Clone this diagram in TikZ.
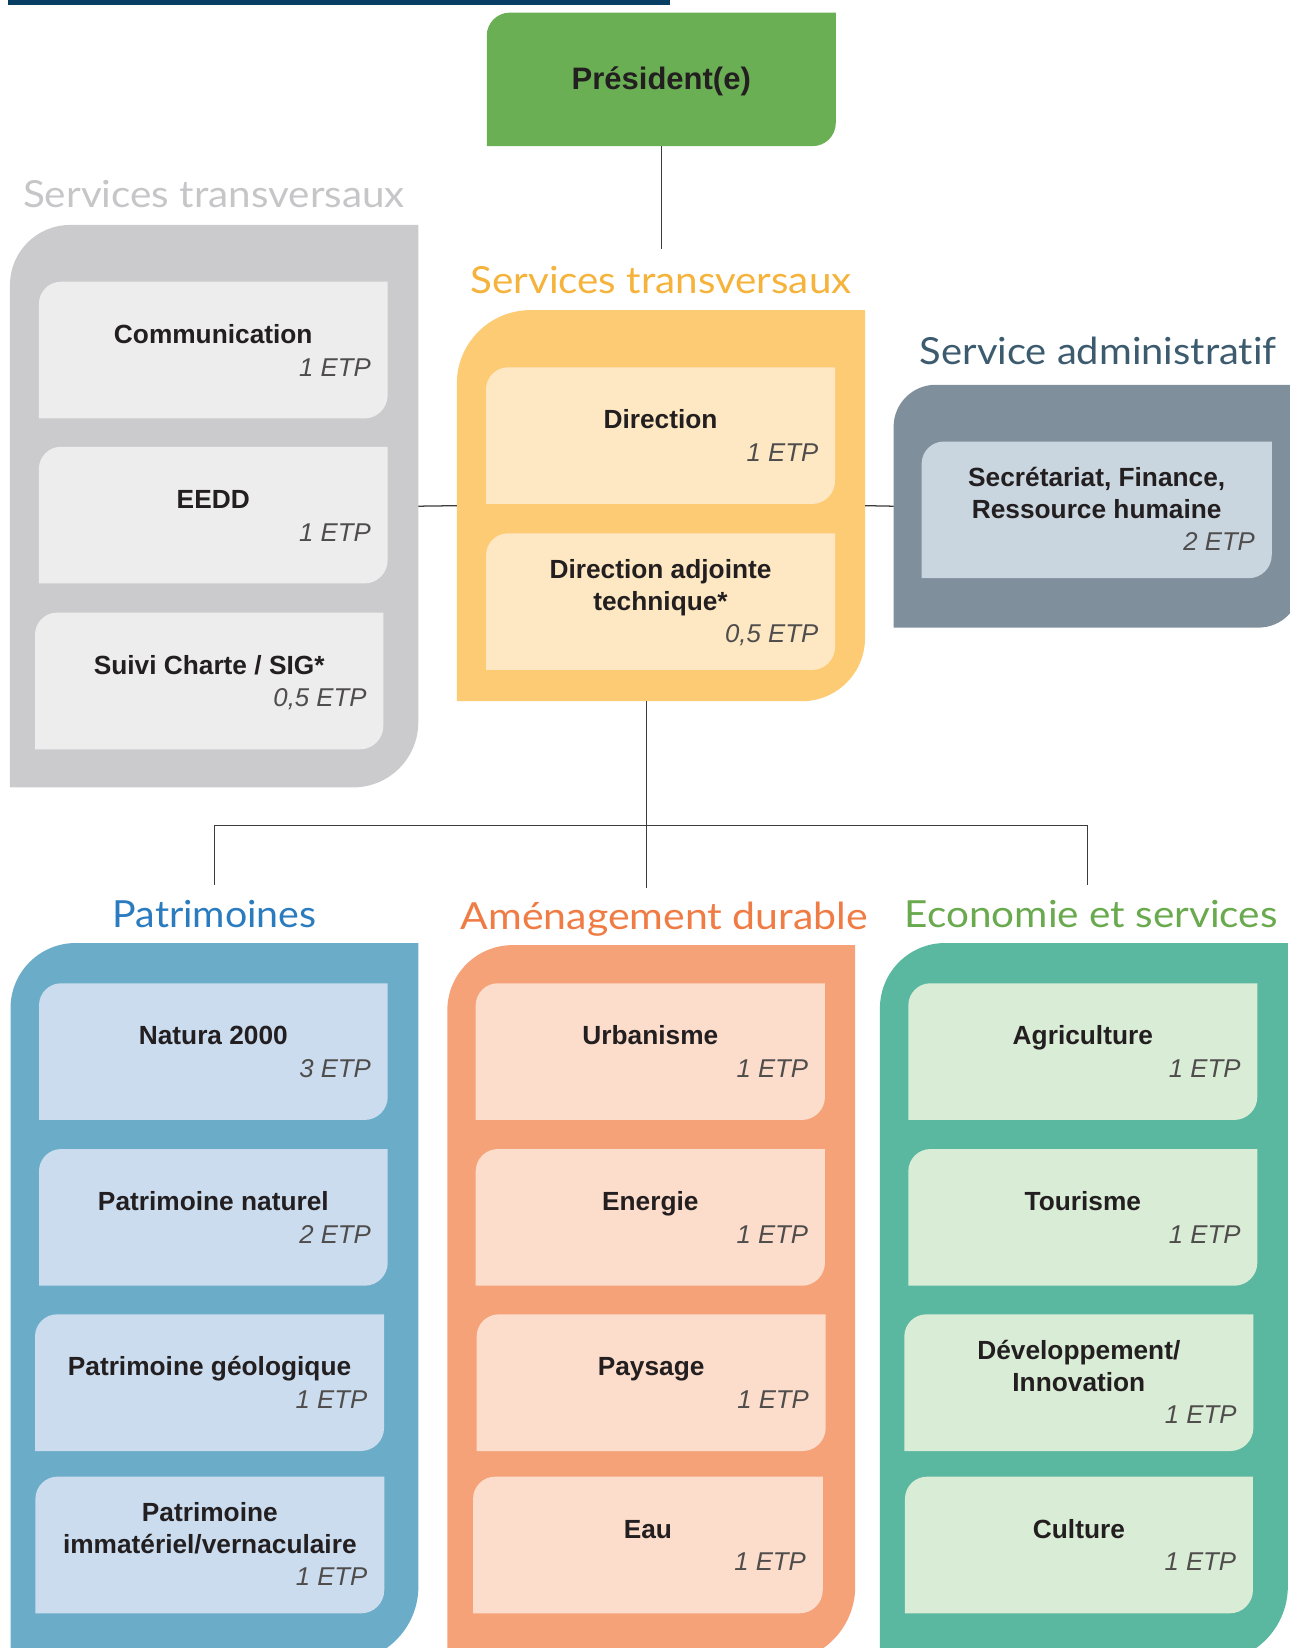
\documentclass[tikz,border=0pt]{standalone}
\usepackage{fontspec}
\usepackage{graphicx}
\setmainfont{Liberation Sans}
\newfontfamily\hfont[Ligatures=NoCommon]{Lato}
\definecolor{topbar}{HTML}{083E64}
\definecolor{presc}{HTML}{6BAF55}
\definecolor{grayo}{HTML}{CBCBCD}
\definecolor{grayi}{HTML}{EDEDED}
\definecolor{grayh}{HTML}{C6C6C8}
\definecolor{yelo}{HTML}{FDCB73}
\definecolor{yeli}{HTML}{FEE8C4}
\definecolor{yelh}{HTML}{F5B33B}
\definecolor{admo}{HTML}{7F8F9B}
\definecolor{admi}{HTML}{C9D6DF}
\definecolor{admh}{HTML}{3D5B6E}
\definecolor{bluo}{HTML}{6BADC8}
\definecolor{blui}{HTML}{CBDCEE}
\definecolor{bluh}{HTML}{2B7BBF}
\definecolor{orao}{HTML}{F5A279}
\definecolor{orai}{HTML}{FCDCCB}
\definecolor{orah}{HTML}{F07C45}
\definecolor{greo}{HTML}{5AB7A0}
\definecolor{grei}{HTML}{D9ECD6}
\definecolor{greh}{HTML}{6AAA4E}
\definecolor{txt}{HTML}{231F20}
\definecolor{linec}{HTML}{3C3C3C}

% leaf-shaped fill: rounded top-left (#2) and bottom-right (#3) corners
\newcommand\leaf[4]{\fill[#4] (#1.south west) -- ([yshift=-#2]#1.north west) arc[start angle=180,end angle=90,radius=#2] -- (#1.north east) -- ([yshift=#3]#1.south east) arc[start angle=0,end angle=-90,radius=#3] -- cycle;}

% inner box: name, x, y(top), width, fill, title, etp, title offset, etp offset
\newcommand\ibox[9]{%
  \node[frame, minimum width=#4pt, minimum height=130pt, anchor=north west] (#1) at (#2,-#3) {};
  \leaf{#1}{21pt}{22pt}{#5}
  \node[ttl, anchor=north] (#1-t) at ([yshift=-#8pt]#1.north) {\rule{0pt}{22pt}#6};
  \node[etp, anchor=base east] (#1-e) at ([xshift=-16pt,yshift=-#9pt]#1.north east) {#7};}

% header text stretched to a given width
\newcommand\hdrtext[2]{\resizebox{#1pt}{\height}{#2}}

\begin{document}
\begin{tikzpicture}[x=1pt,y=1pt,
  frame/.style={inner sep=0pt, outer sep=0pt, draw=none},
  ttl/.style={font=\bfseries\fontsize{25}{30.2}\selectfont, text=txt, align=center, inner sep=0pt, outer sep=0pt},
  etp/.style={font=\itshape\fontsize{24.5}{29}\selectfont, text=txt!80, inner sep=0pt, outer sep=0pt},
  hdr/.style={font=\hfont\fontsize{35.5}{40}\selectfont, inner sep=0pt, outer sep=0pt, anchor=base},
  conn/.style={draw=linec, line width=1.2pt}]
\useasboundingbox (0,0) rectangle (1227,-1567.6);
\clip (0,0) rectangle (1227,-1567.6);

\node[frame, fill=topbar, minimum width=629pt, minimum height=4.7pt, anchor=north west] (bar) at (8,0) {};

% President
\node[frame, minimum width=332pt, minimum height=127pt, anchor=north west] (pres) at (463,-12) {};
\leaf{pres}{22pt}{22pt}{presc}
\node[ttl, font=\bfseries\fontsize{29.5}{34}\selectfont, anchor=base] (pres-t) at ([yshift=-73pt]pres.north) {Président(e)};

% Headers
\node[hdr, text=grayh] (h-gs) at (203.5,-197) {\hdrtext{363}{Services transversaux}};
\node[hdr, text=yelh] (h-st) at (628.7,-279) {\hdrtext{362.5}{Services transversaux}};
\node[hdr, text=admh] (h-adm) at (1044.7,-347) {\hdrtext{339.4}{Service administratif}};
\node[hdr, text=bluh] (h-pat) at (204.2,-882) {\hdrtext{194}{Patrimoines}};
\node[hdr, text=orah] (h-amd) at (631.9,-884) {\hdrtext{387.4}{Aménagement durable}};
\node[hdr, text=greh] (h-eco) at (1038,-882) {\hdrtext{354.5}{Economie et services}};

% Outer boxes
\node[frame, minimum width=388.4pt, minimum height=535pt, anchor=north west] (gs) at (9.5,-214) {};
\leaf{gs}{57pt}{62pt}{grayo}
\node[frame, minimum width=388.3pt, minimum height=372pt, anchor=north west] (st) at (434.5,-295) {};
\leaf{st}{70pt}{60pt}{yelo}
\node[frame, minimum width=387pt, minimum height=231pt, anchor=north west] (adm) at (850,-366) {};
\leaf{adm}{40pt}{40pt}{admo}
\node[frame, minimum width=388pt, minimum height=684pt, anchor=north west] (pat) at (10,-897) {};
\leaf{pat}{62pt}{72pt}{bluo}
\node[frame, minimum width=388pt, minimum height=682pt, anchor=north west] (amd) at (425.5,-899) {};
\leaf{amd}{62pt}{72pt}{orao}
\node[frame, minimum width=388pt, minimum height=684pt, anchor=north west] (eco) at (837,-897) {};
\leaf{eco}{62pt}{72pt}{greo}

% Services transversaux (gris)
\ibox{comm}{37}{268}{331.7}{grayi}{Communication}{1 ETP}{36.6}{89.7}
\ibox{eedd}{37}{425}{331.7}{grayi}{EEDD}{1 ETP}{36.6}{89.7}
\ibox{sig}{33.3}{582.7}{331.3}{grayi}{Suivi Charte / SIG*}{0,5 ETP}{36.6}{89.7}

% Services transversaux (jaune)
\ibox{dir}{462.3}{349.4}{332}{yeli}{Direction}{1 ETP}{36.6}{89.7}
\ibox{dadj}{462.3}{507.3}{332}{yeli}{Direction adjointe\\technique*}{0,5 ETP}{21}{103.7}

% Service administratif
\ibox{sec}{876.7}{420}{333}{admi}{Secrétariat, Finance,\\Ressource humaine}{2 ETP}{21}{103.7}

% Patrimoines
\ibox{nat}{37.1}{935.3}{331.7}{blui}{Natura 2000}{3 ETP}{36.6}{89.7}
\ibox{pnat}{37.1}{1093}{331.7}{blui}{Patrimoine naturel}{2 ETP}{36.6}{89.7}
\ibox{pgeo}{33.3}{1250.2}{332}{blui}{Patrimoine géologique}{1 ETP}{36.6}{89.7}
\ibox{pimm}{33.7}{1404.6}{331.8}{blui}{Patrimoine\\immatériel/vernaculaire}{1 ETP}{21}{103.7}

% Aménagement durable
\ibox{urb}{452.5}{935.3}{332.2}{orai}{Urbanisme}{1 ETP}{36.6}{89.7}
\ibox{ener}{452.5}{1093}{332.2}{orai}{Energie}{1 ETP}{36.6}{89.7}
\ibox{pays}{453.4}{1250.2}{332}{orai}{Paysage}{1 ETP}{36.6}{89.7}
\ibox{eau}{450}{1404.6}{332.6}{orai}{Eau}{1 ETP}{36.6}{89.7}

% Economie et services
\ibox{agri}{864}{935.3}{332}{grei}{Agriculture}{1 ETP}{36.6}{89.7}
\ibox{tour}{864}{1093}{332}{grei}{Tourisme}{1 ETP}{36.6}{89.7}
\ibox{dev}{860.2}{1250.2}{332}{grei}{Développement/\\Innovation}{1 ETP}{21}{103.7}
\ibox{cult}{860.8}{1404.6}{331}{grei}{Culture}{1 ETP}{36.6}{89.7}

% Connectors
\coordinate (pres-end) at (629,-237);
\draw[conn] (pres.south) -- (pres-end);
\draw[conn] (gs.east) -- (st.west);
\draw[conn] (st.east) -- (adm.west);
\coordinate (junc) at (615,-785);
\coordinate (jl) at (204,-785);
\coordinate (jr) at (1034.5,-785);
\coordinate (dl) at (204,-842);
\coordinate (dm) at (615,-845);
\coordinate (dr) at (1034.5,-842);
\draw[conn] (st.south -| junc) -- (junc);
\draw[conn] (jl) -- (jr);
\draw[conn] (jl) -- (dl);
\draw[conn] (junc) -- (dm);
\draw[conn] (jr) -- (dr);
\end{tikzpicture}
\end{document}
